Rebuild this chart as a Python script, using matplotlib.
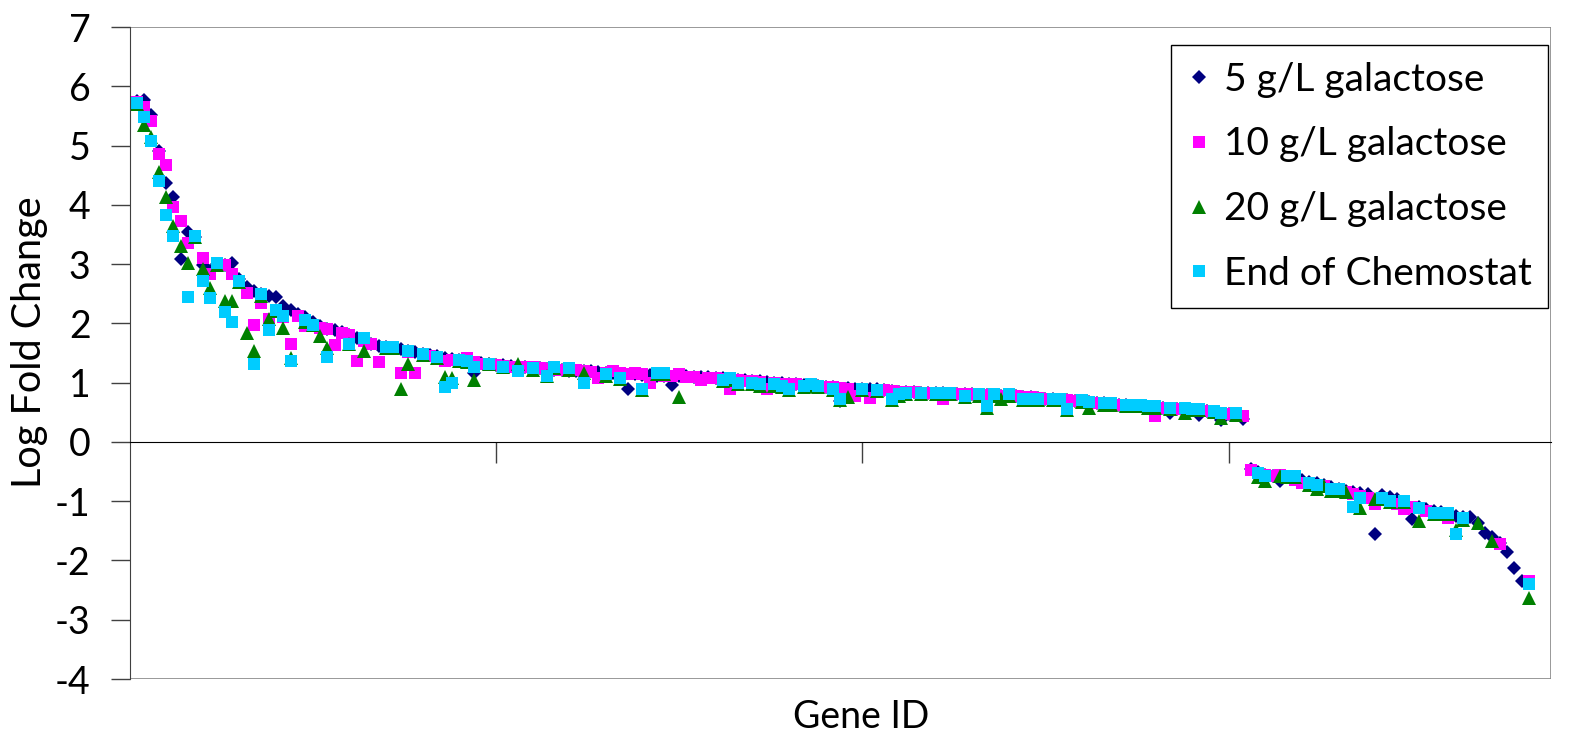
import numpy as np
import matplotlib
matplotlib.use("Agg")
import matplotlib.pyplot as plt
from matplotlib.patches import Rectangle

nan = np.nan

# log fold change per gene (sorted gene order), blanks = nan
lfc_5 = [
    5.75, 5.77, 5.52, 4.90, 4.36, 4.14, 3.09, 3.54, 3.45, 2.99,
    2.88, 3.00, 2.98, 3.01, 2.75, 2.62, 2.55, 2.50, 2.47, 2.45,
    2.30, 2.22, 2.15, 2.10, 2.02, 1.95, 1.90, 1.88, 1.85, 1.80,
    1.75, 1.72, 1.66, 1.62, 1.60, 1.58, 1.57, 1.54, 1.52, 1.48,
    1.47, 1.45, 1.41, 1.40, 1.38, 1.36, 1.16, 1.33, 1.31, 1.30,
    1.29, 1.28, 1.27, 1.26, 1.25, 1.24, 1.23, 1.22, 1.21, 1.20,
    1.20, 1.19, 1.19, 1.18, 1.17, 1.16, 1.15, 0.90, 1.14, 1.13,
    1.13, 1.12, 1.12, 0.96, 1.11, 1.11, 1.10, 1.10, 1.09, 1.08,
    1.07, 1.06, 1.05, 1.04, 1.03, 1.02, 1.01, 1.00, 0.99, 0.98,
    0.97, 0.96, 0.95, 0.94, 0.93, 0.92, 0.69, 0.91, 0.90, 0.90,
    0.89, 0.89, 0.87, 0.86, 0.85, 0.85, 0.84, 0.83, 0.83, 0.82,
    0.82, 0.81, 0.81, 0.80, 0.80, 0.79, 0.79, 0.78, 0.78, 0.77,
    0.77, 0.76, 0.75, 0.74, 0.73, 0.72, 0.71, 0.70, 0.69, 0.68,
    0.67, 0.66, 0.65, 0.64, 0.63, 0.62, 0.61, 0.60, 0.59, 0.58,
    0.57, 0.49, 0.56, 0.55, 0.54, 0.46, 0.52, 0.50, 0.37, 0.47,
    0.46, 0.39, -0.46, -0.50, -0.55, -0.58, -0.66, -0.60, -0.62, -0.65,
    -0.68, -0.70, -0.73, -0.76, -0.79, -0.82, -0.85, -0.87, -0.88, -1.56,
    -0.90, -0.93, -0.97, -1.12, -1.30, -1.10, -1.13, -1.16, -1.19, -1.22,
    -1.25, -1.27, -1.27, -1.37, -1.54, -1.60, -1.70, -1.85, -2.12, -2.35,
    nan,
]

lfc_10 = [
    5.73, 5.65, 5.42, 4.85, 4.68, 3.97, 3.73, 3.35, 3.47, 3.11,
    2.84, 2.97, 2.99, 2.84, 2.70, 2.52, 1.98, 2.35, 2.07, 2.20,
    2.10, 1.66, 2.12, 1.96, 1.97, 1.93, 1.90, 1.63, 1.84, 1.80,
    1.37, 1.70, 1.66, 1.34, 1.59, 1.58, 1.17, 1.52, 1.17, 1.46,
    1.45, 1.42, 1.36, 1.39, 1.38, 1.41, 1.35, 1.32, 1.30, 1.29,
    1.28, 1.27, 1.26, 1.26, 1.27, 1.24, 1.23, 1.22, 1.21, 1.21,
    1.22, 1.20, 1.18, 1.07, 1.16, 1.19, 1.16, 1.15, 1.16, 1.14,
    0.99, 1.13, 1.12, 1.12, 1.14, 1.10, 1.10, 1.05, 1.08, 1.07,
    1.06, 0.90, 1.04, 1.03, 1.02, 1.01, 0.89, 1.00, 0.98, 0.97,
    0.97, 0.94, 0.95, 0.94, 0.93, 0.92, 0.91, 0.90, 0.77, 0.89,
    0.74, 0.88, 0.87, 0.86, 0.85, 0.84, 0.84, 0.83, 0.83, 0.82,
    0.72, 0.81, 0.81, 0.80, 0.80, 0.79, 0.79, 0.78, 0.78, 0.77,
    0.77, 0.76, 0.75, 0.74, 0.72, 0.72, 0.71, 0.70, 0.69, 0.68,
    0.67, 0.66, 0.65, 0.64, 0.63, 0.62, 0.61, 0.60, 0.59, 0.43,
    0.57, 0.56, 0.55, 0.55, 0.54, 0.53, 0.52, 0.50, 0.48, 0.47,
    0.46, 0.44, -0.48, -0.52, -0.55, -0.57, -0.55, -0.60, -0.65, -0.70,
    -0.70, -0.72, -0.75, -0.80, -0.82, -0.85, -0.88, -0.92, -0.95, -1.04,
    -0.97, -1.00, -1.05, -1.14, -1.10, -1.12, -1.17, -1.20, -1.22, -1.29,
    nan, nan, nan, nan, nan, nan, -1.73, nan, nan, nan,
    -2.34,
]

lfc_20 = [
    5.70, 5.35, 5.15, 4.56, 4.14, 3.64, 3.31, 3.01, 3.46, 2.91,
    2.60, 2.99, 2.37, 2.37, 2.70, 1.83, 1.54, 2.47, 2.07, 2.21,
    1.93, 1.41, nan, 2.03, 1.97, 1.78, 1.58, nan, nan, 1.65,
    nan, 1.53, nan, nan, 1.58, 1.58, 0.89, 1.31, nan, 1.46,
    nan, 1.42, 1.10, 1.07, 1.37, 1.35, 1.05, nan, 1.31, nan,
    1.26, nan, 1.31, nan, 1.22, nan, 1.11, 1.25, nan, 1.22,
    nan, 1.16, nan, nan, 1.12, nan, 1.06, nan, nan, 0.88,
    nan, 1.14, 1.14, nan, 0.75, nan, nan, nan, nan, nan,
    1.03, 1.05, 0.97, nan, 0.98, 0.95, nan, 0.95, 0.92, 0.87,
    nan, 0.93, 0.95, 0.92, nan, 0.87, 0.70, 0.75, nan, 0.87,
    nan, 0.86, nan, 0.71, 0.78, 0.80, nan, 0.80, nan, 0.81,
    0.80, 0.80, nan, 0.75, nan, 0.78, 0.58, 0.78, 0.73, 0.77,
    nan, 0.71, 0.71, 0.71, nan, 0.71, 0.70, 0.53, nan, 0.68,
    0.58, nan, 0.63, 0.63, nan, 0.61, 0.61, 0.61, 0.58, 0.58,
    nan, 0.55, nan, 0.48, 0.54, 0.53, nan, 0.50, 0.41, nan,
    0.46, nan, nan, -0.60, -0.66, nan, -0.58, -0.60, -0.60, nan,
    -0.72, -0.80, -0.75, -0.82, -0.82, -0.84, nan, -1.12, nan, -0.97,
    -0.97, -1.02, nan, -1.02, nan, -1.34, nan, -1.22, -1.22, -1.22,
    -1.48, -1.31, nan, -1.37, nan, -1.68, nan, nan, nan, nan,
    -2.64,
]

lfc_end = [
    5.72, 5.49, 5.07, 4.41, 3.82, 3.48, nan, 2.45, 3.48, 2.71,
    2.42, 3.01, 2.20, 2.02, 2.72, nan, 1.32, 2.49, 1.88, 2.23,
    2.12, 1.36, nan, 2.05, 1.98, nan, 1.44, nan, nan, 1.66,
    nan, 1.75, nan, nan, 1.60, 1.60, nan, 1.53, nan, 1.48,
    nan, 1.44, 0.92, 0.99, 1.39, 1.37, 1.27, nan, 1.32, nan,
    1.27, nan, 1.19, nan, 1.24, nan, 1.12, 1.27, nan, 1.24,
    nan, 0.99, nan, nan, 1.14, nan, 1.07, nan, nan, 0.89,
    nan, 1.16, 1.16, nan, nan, nan, nan, nan, nan, nan,
    1.05, 1.07, 0.99, nan, 1.00, 0.97, nan, 0.97, 0.94, 0.89,
    nan, 0.95, 0.97, 0.94, nan, 0.89, 0.73, nan, nan, 0.89,
    nan, 0.88, nan, 0.73, 0.80, 0.82, nan, 0.82, nan, 0.83,
    0.82, 0.82, nan, 0.77, nan, 0.80, 0.60, 0.80, nan, 0.80,
    nan, 0.73, 0.73, 0.73, nan, 0.73, 0.72, 0.55, nan, 0.70,
    0.68, nan, 0.65, 0.65, nan, 0.63, 0.63, 0.63, 0.60, 0.60,
    nan, 0.57, nan, 0.57, 0.56, 0.55, nan, 0.52, 0.48, nan,
    0.48, nan, nan, -0.53, -0.58, nan, nan, -0.58, -0.58, nan,
    -0.70, -0.72, nan, -0.80, -0.80, nan, -1.10, -0.94, nan, nan,
    -0.95, -1.00, nan, -1.00, nan, -1.12, nan, -1.20, -1.20, -1.20,
    -1.56, -1.29, nan, nan, nan, nan, nan, nan, nan, nan,
    -2.40,
]

series_labels = ["5 g/L galactose", "10 g/L galactose", "20 g/L galactose", "End of Chemostat"]
gene_id = np.arange(1, len(lfc_5) + 1)

plt.rcParams["font.family"] = ["Lato", "DejaVu Sans"]
plt.rcParams["axes.unicode_minus"] = False

fig = plt.figure(figsize=(15.79, 7.34), dpi=100)
ax = fig.add_axes([129.5 / 1579, 55 / 734, 1421.5 / 1579, 652 / 734])

styles = [
    dict(marker="D", color="#000080", ms=6.8),
    dict(marker="s", color="#FF00FF", ms=8.5),
    dict(marker="^", color="#008000", ms=9.4),
    dict(marker="s", color="#00CCFF", ms=8.5),
]
for vals, lab, st in zip([lfc_5, lfc_10, lfc_20, lfc_end], series_labels, styles):
    ax.plot(gene_id, vals, linestyle="none", marker=st["marker"], color=st["color"],
            ms=st["ms"], mew=0, label=lab, clip_on=False)

ax.set_xlim(0, 194)
ax.set_ylim(-4, 7)
ax.set_yticks(range(-4, 8))
ax.set_xticks([50, 100, 150])
ax.set_xticklabels([])

# x axis crosses at 0, plot area border in grey
ax.spines["bottom"].set_position(("data", 0))
ax.spines["bottom"].set_color("black")
ax.spines["left"].set_color("#404040")
ax.spines["top"].set_visible(False)
ax.spines["right"].set_visible(False)
ax.add_patch(Rectangle((0, 0), 1, 1, transform=ax.transAxes, fill=False,
                       edgecolor="#888888", lw=1.2, zorder=0.5))

ax.tick_params(axis="y", direction="out", length=14, width=1, pad=14, labelsize=27, color="#404040")
ax.tick_params(axis="x", direction="out", length=15, width=1, color="#404040")

fig.text(30 / 1579, 1 - 342 / 734, "Log Fold Change", rotation=90, ha="center", va="center", fontsize=28.5)
fig.text(861 / 1579, 1 - 717 / 734, "Gene ID", ha="center", va="center", fontsize=27)

leg = ax.legend(loc="upper right", bbox_to_anchor=(0.998, 0.972), borderaxespad=0,
                fontsize=28, numpoints=1, handlelength=0.6, handletextpad=0.35,
                labelspacing=0.74, borderpad=0.42, fancybox=False, framealpha=1)
leg.get_frame().set_edgecolor("black")
leg.get_frame().set_linewidth(1)

plt.savefig("out.png", dpi=100)
